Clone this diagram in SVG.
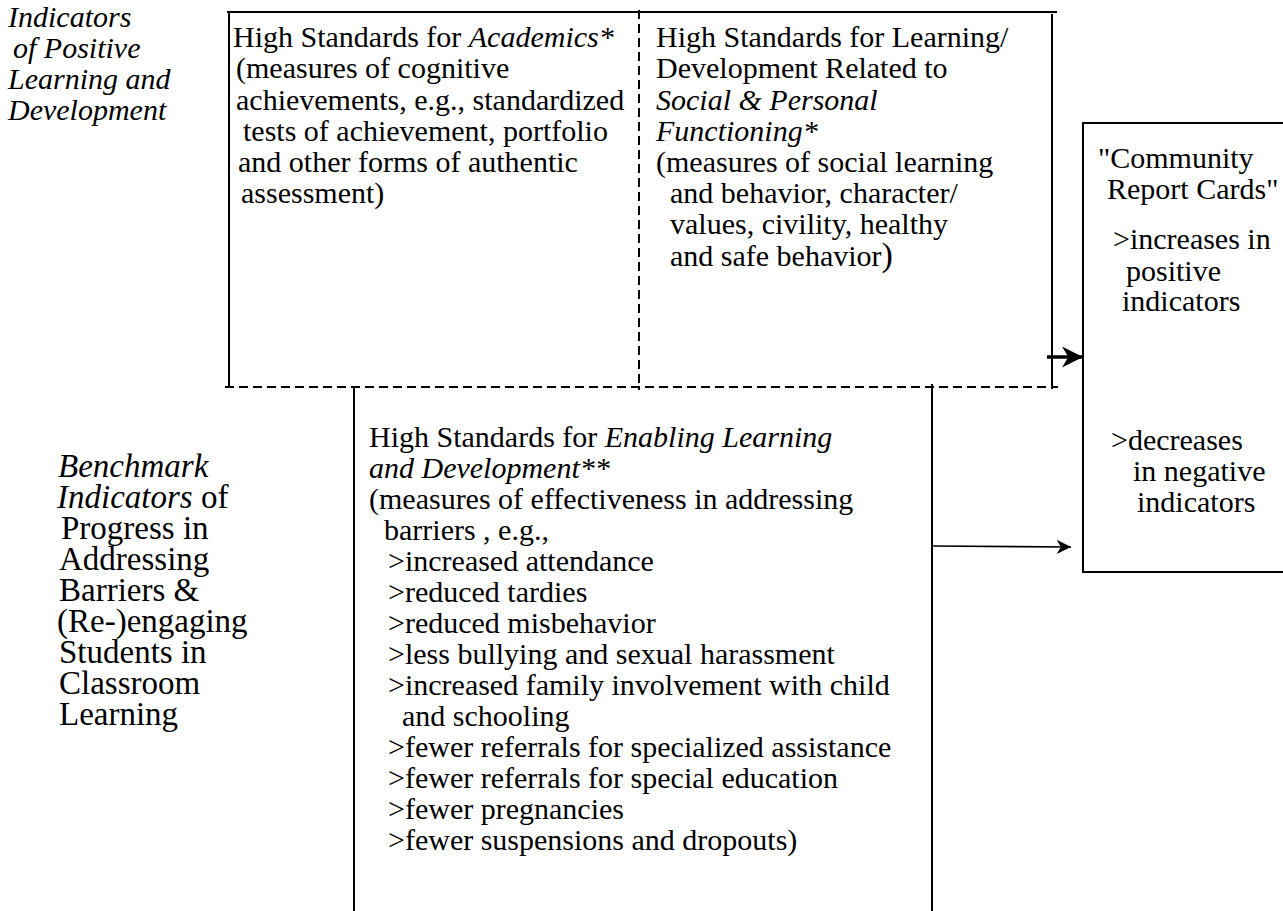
<svg xmlns="http://www.w3.org/2000/svg" width="1283" height="911" viewBox="0 0 1283 911">
<defs>
<style>
text{font-family:"Liberation Serif","Times New Roman",Times,serif;font-size:30px;fill:#000}
.big{font-size:33px}
.i{font-style:italic}
.solid{stroke:#000;stroke-width:2;fill:none}
.dash{stroke:#000;stroke-width:2;fill:none;stroke-dasharray:9,5}
</style>
<marker id="ah" viewBox="0 0 10 10" refX="10" refY="5" markerWidth="6" markerHeight="6" orient="auto" markerUnits="strokeWidth">
<path d="M0,0 L10,5 L0,10 L3,5 z" fill="#000"/>
</marker>
<marker id="ah2" viewBox="0 0 10 10" refX="10" refY="5" markerWidth="11" markerHeight="9" orient="auto" markerUnits="strokeWidth">
<path d="M0,0 L10,5 L0,10 L3,5 z" fill="#000"/>
</marker>
</defs>
<rect width="1283" height="911" fill="#fff"/>

<g id="label-positive">
<text x="8" y="27" class="i">Indicators</text>
<text x="13" y="58" class="i">of Positive</text>
<text x="8" y="89" class="i">Learning and</text>
<text x="8" y="120" class="i">Development</text>
</g>

<g id="top-box">
<line class="solid" x1="227" y1="12" x2="1057" y2="12"/>
<line class="solid" x1="229" y1="12" x2="229" y2="388"/>
<line class="solid" x1="1052" y1="14" x2="1052" y2="389"/>
<line class="dash" x1="639" y1="10" x2="639" y2="390"/>
<line class="dash" x1="225" y1="387" x2="1058" y2="387"/>
</g>

<g id="academics">
<text x="233" y="47">High Standards for <tspan class="i">Academics*</tspan></text>
<text x="236" y="78">(measures of cognitive</text>
<text x="236" y="110">achievements, e.g., standardized</text>
<text x="243" y="141">tests of achievement, portfolio</text>
<text x="238" y="172">and other forms of authentic</text>
<text x="241" y="203">assessment)</text>
</g>

<g id="social">
<text x="656" y="47">High Standards for Learning/</text>
<text x="656" y="78">Development Related to</text>
<text x="656" y="110" class="i">Social &amp; Personal</text>
<text x="656" y="141" class="i">Functioning*</text>
<text x="656" y="172">(measures of social learning</text>
<text x="670" y="203">and behavior, character/</text>
<text x="670" y="234">values, civility, healthy</text>
<text x="670" y="266">and safe behavior<tspan font-size="34">)</tspan></text>
</g>

<g id="label-benchmark">
<text x="58" y="477" class="i big">Benchmark</text>
<text x="57" y="508" class="big"><tspan class="i">Indicators</tspan> of</text>
<text x="61" y="539" class="big">Progress in</text>
<text x="59" y="570" class="big">Addressing</text>
<text x="59" y="601" class="big">Barriers &amp;</text>
<text x="57" y="632" class="big">(Re-)engaging</text>
<text x="59" y="663" class="big">Students in</text>
<text x="59" y="694" class="big">Classroom</text>
<text x="59" y="725" class="big">Learning</text>
</g>

<g id="enabling">
<line class="solid" x1="354" y1="387" x2="354" y2="911"/>
<line class="solid" x1="932" y1="384" x2="932" y2="911"/>
<text x="369" y="447">High Standards for <tspan class="i">Enabling Learning</tspan></text>
<text x="369" y="478" class="i">and Development**</text>
<text x="369" y="509">(measures of effectiveness in addressing</text>
<text x="384" y="540">barriers , e.g.,</text>
<text x="388" y="571">&gt;increased attendance</text>
<text x="388" y="602">&gt;reduced tardies</text>
<text x="388" y="633">&gt;reduced misbehavior</text>
<text x="388" y="664">&gt;less bullying and sexual harassment</text>
<text x="388" y="695">&gt;increased family involvement with child</text>
<text x="402" y="726">and schooling</text>
<text x="388" y="757">&gt;fewer referrals for specialized assistance</text>
<text x="388" y="788">&gt;fewer referrals for special education</text>
<text x="388" y="819">&gt;fewer pregnancies</text>
<text x="388" y="850">&gt;fewer suspensions and dropouts)</text>
</g>

<g id="report-cards">
<rect class="solid" x="1083" y="123" width="215" height="449"/>
<text x="1098" y="168">"Community</text>
<text x="1107" y="199">Report Cards"</text>
<text x="1113" y="249">&gt;increases in</text>
<text x="1126" y="281">positive</text>
<text x="1122" y="311">indicators</text>
<text x="1111" y="450">&gt;decreases</text>
<text x="1133" y="481">in negative</text>
<text x="1137" y="512">indicators</text>
</g>

<g id="connectors">
<line x1="1047" y1="357" x2="1083" y2="357" stroke="#000" stroke-width="3.5" marker-end="url(#ah)"/>
<line x1="932" y1="546" x2="1071" y2="547" stroke="#000" stroke-width="1.6" marker-end="url(#ah2)"/>
</g>
</svg>
